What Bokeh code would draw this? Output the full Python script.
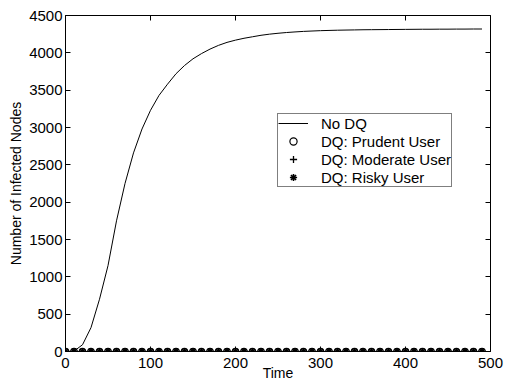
from bokeh.plotting import figure
from bokeh.models import LinearAxis, Legend, LegendItem, FixedTicker, CustomLabelingPolicy
from bokeh.embed import file_html
from bokeh.resources import INLINE

# ---- data ----
time = [0, 10, 20, 30, 40, 50, 60, 70, 80, 90,
        100, 110, 120, 130, 140, 150, 160, 170, 180, 190,
        200, 210, 220, 230, 240, 250, 260, 270, 280, 290,
        300, 310, 320, 330, 340, 350, 360, 370, 380, 390,
        400, 410, 420, 430, 440, 450, 460, 470, 480, 490]
no_dq = [0, 5, 90, 320, 700, 1150, 1750, 2250, 2660, 2980,
         3230, 3430, 3580, 3720, 3830, 3920, 3990, 4050, 4100, 4140,
         4170, 4195, 4215, 4235, 4250, 4262, 4272, 4280, 4287, 4292,
         4297, 4300, 4303, 4305, 4307, 4309, 4310, 4311, 4312, 4313,
         4314, 4315, 4316, 4316, 4317, 4317, 4318, 4318, 4319, 4319]
dq_prudent = [0] * 50
dq_moderate = [0] * 50
dq_risky = [0] * 50
xticks = [0, 100, 200, 300, 400, 500]
yticks = [0, 500, 1000, 1500, 2000, 2500, 3000, 3500, 4000, 4500]

FONT = "Liberation Sans"
FS = "15px"
FS_LABEL = "14px"

p = figure(width=507, height=383, output_backend="svg", toolbar_location=None,
           x_range=(0, 500), y_range=(0, 4500),
           min_border_left=65, min_border_right=17, min_border_top=15, min_border_bottom=32)
p.background_fill_color = "white"
p.border_fill_color = "white"
p.outline_line_color = "black"
p.outline_line_width = 1
p.grid.visible = False

for ax in (p.xaxis[0], p.yaxis[0]):
    ax.major_tick_in = 5
    ax.major_tick_out = 0
    ax.minor_tick_line_color = None
    ax.major_label_text_font = FONT
    ax.major_label_text_font_size = FS
    ax.major_label_text_color = "black"
    ax.axis_label_text_font = FONT
    ax.axis_label_text_font_size = FS_LABEL
    ax.axis_label_text_font_style = "normal"
    ax.axis_label_text_color = "black"
    ax.axis_line_color = "black"
    ax.major_tick_line_color = "black"

p.xaxis[0].ticker = FixedTicker(ticks=xticks)
p.yaxis[0].ticker = FixedTicker(ticks=yticks)
p.xaxis[0].axis_label = "Time"
p.yaxis[0].axis_label = "Number of Infected Nodes"
p.xaxis[0].major_label_standoff = 6
p.xaxis[0].axis_label_standoff = -6
p.yaxis[0].major_label_standoff = 3
p.yaxis[0].axis_label_standoff = 2

top = LinearAxis(ticker=FixedTicker(ticks=xticks))
right = LinearAxis(ticker=FixedTicker(ticks=yticks))
for ax in (top, right):
    ax.major_tick_in = 5
    ax.major_tick_out = 0
    ax.minor_tick_line_color = None
    ax.major_label_policy = CustomLabelingPolicy(code="return []")
    ax.major_label_text_font_size = "1px"
    ax.major_label_standoff = 0
    ax.axis_line_color = None
    ax.major_tick_line_color = "black"
p.add_layout(top, "above")
p.add_layout(right, "right")

r_line = p.line(time, no_dq, line_color="black", line_width=1)
r_circ = p.scatter(time, dq_prudent, marker="circle", size=6.5, fill_color="white",
                   line_color="black", line_width=1.2)
r_plus = p.scatter(time, dq_moderate, marker="cross", size=7, line_color="black", line_width=1.3)
r_ast = p.scatter(time, dq_risky, marker="asterisk", size=7, line_color="black", line_width=1.6)

legend = Legend(items=[
    LegendItem(label="No DQ", renderers=[r_line]),
    LegendItem(label="DQ: Prudent User", renderers=[r_circ]),
    LegendItem(label="DQ: Moderate User", renderers=[r_plus]),
    LegendItem(label="DQ: Risky User", renderers=[r_ast]),
], location=(212, 164))
legend.label_text_font = FONT
legend.label_text_font_size = FS
legend.label_text_color = "black"
legend.glyph_width = 30
legend.glyph_height = 18
legend.label_height = 18
legend.spacing = 0
legend.padding = 0
legend.margin = 0
legend.label_standoff = 13
legend.border_line_color = "black"
legend.border_line_width = 1
legend.background_fill_color = "white"
legend.background_fill_alpha = 1
p.add_layout(legend, "center")

open("out.html", "w").write(file_html(p, INLINE))
